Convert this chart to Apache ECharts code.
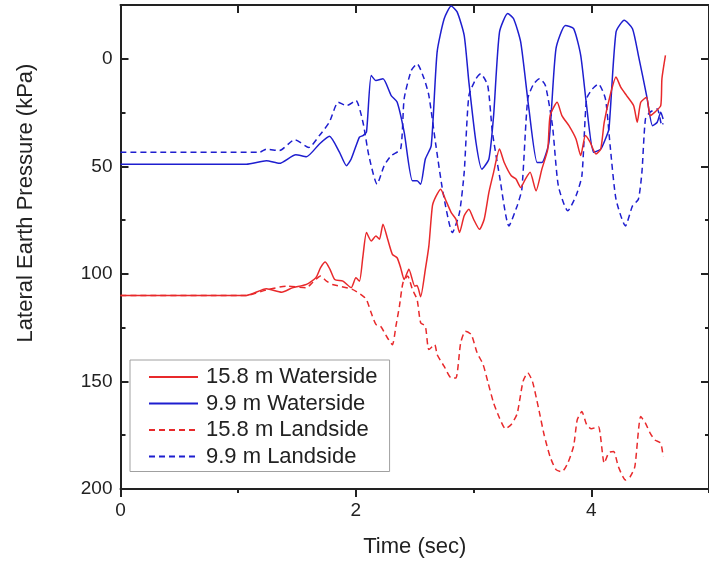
<!DOCTYPE html>
<html>
<head>
<meta charset="utf-8">
<script src="https://cdn.jsdelivr.net/npm/echarts@6/dist/echarts.min.js"></script>
<style>
html,body{margin:0;padding:0;background:#fff;}
#chart{width:709px;height:564px;}
</style>
</head>
<body>
<div id="chart"></div>
<script>
// ---- data ----
var seriesNames = ['15.8 m Waterside', '9.9 m Waterside', '15.8 m Landside', '9.9 m Landside'];

var ws158T = [0, 1.07, 1.24, 1.37, 1.46, 1.58, 1.66, 1.70, 1.74, 1.78, 1.82, 1.89, 1.96, 2.00, 2.03, 2.06, 2.09, 2.13, 2.17, 2.20, 2.23, 2.27, 2.31, 2.35, 2.38, 2.41, 2.45, 2.50, 2.52, 2.55, 2.59, 2.62, 2.65, 2.68, 2.72, 2.76, 2.81, 2.85, 2.88, 2.92, 2.96, 3.00, 3.05, 3.09, 3.13, 3.17, 3.22, 3.26, 3.32, 3.36, 3.40, 3.44, 3.48, 3.53, 3.58, 3.63, 3.65, 3.71, 3.75, 3.81, 3.87, 3.91, 3.95, 3.99, 4.04, 4.08, 4.11, 4.16, 4.21, 4.25, 4.30, 4.36, 4.39, 4.42, 4.47, 4.50, 4.54, 4.59, 4.60, 4.63];
var ws158V = [110, 110, 106.9, 108.5, 106.5, 104.9, 101.8, 97.1, 94.5, 97.9, 102.6, 103.4, 106.4, 101.8, 103.4, 91.7, 80.8, 84.7, 82.4, 83.9, 76.9, 83.9, 90.9, 92.5, 97.1, 102.6, 97.9, 105.7, 105.4, 110.6, 97.9, 87, 68.4, 64, 60.6, 65.3, 71.5, 74.6, 80.8, 73, 69.9, 74.6, 79.3, 74.6, 62.1, 52.8, 42, 48.2, 54.4, 55.9, 59.8, 55.9, 52.8, 61.4, 51.3, 42, 26.4, 20.2, 26.4, 31.1, 37.3, 45, 35.7, 38.8, 44.3, 42, 29.5, 17.1, 8.5, 13.2, 17.1, 21.8, 29.5, 20.2, 17.9, 26.4, 24.8, 21.8, 9.3, -1.6];

var ws99T = [0, 1.07, 1.24, 1.35, 1.49, 1.58, 1.69, 1.775, 1.86, 1.92, 1.96, 2.03, 2.06, 2.09, 2.13, 2.17, 2.23, 2.30, 2.35, 2.41, 2.48, 2.52, 2.55, 2.59, 2.64, 2.69, 2.75, 2.81, 2.86, 2.92, 2.96, 3.02, 3.07, 3.13, 3.17, 3.22, 3.29, 3.34, 3.40, 3.47, 3.54, 3.58, 3.64, 3.70, 3.78, 3.85, 3.91, 3.96, 4.02, 4.08, 4.12, 4.15, 4.21, 4.28, 4.35, 4.40, 4.47, 4.52, 4.56, 4.59, 4.61];
var ws99V = [49, 49, 47.4, 48.6, 44.6, 45.5, 39.6, 36, 43.4, 49.7, 46.6, 36.4, 35.7, 34, 7.8, 10.1, 9.3, 17.1, 20.1, 34.1, 56.7, 56.7, 58.3, 46.6, 40.4, -3.1, -18.6, -24.5, -21.8, -10.9, 10.9, 38.8, 51.3, 46.6, 26.4, -12.4, -21, -18.6, -7.8, 23.3, 48.2, 48.2, 38.8, -4.7, -15.5, -14, -1.6, 21.8, 43.5, 42, 37.3, 32.6, -12.4, -17.9, -14, -1.6, 17.1, 31.1, 29.5, 24.8, 28];

var ls158T = [0, 1.07, 1.24, 1.41, 1.58, 1.63, 1.70, 1.75, 1.80, 1.97, 2.06, 2.09, 2.13, 2.17, 2.21, 2.26, 2.31, 2.34, 2.37, 2.40, 2.44, 2.48, 2.52, 2.55, 2.59, 2.62, 2.67, 2.69, 2.75, 2.81, 2.85, 2.89, 2.93, 2.98, 3.03, 3.08, 3.12, 3.17, 3.22, 3.27, 3.32, 3.37, 3.42, 3.46, 3.50, 3.55, 3.60, 3.65, 3.70, 3.75, 3.80, 3.85, 3.88, 3.92, 3.96, 4.00, 4.06, 4.11, 4.15, 4.19, 4.23, 4.29, 4.33, 4.37, 4.42, 4.46, 4.50, 4.54, 4.59, 4.61];
var ls158V = [110, 110, 107.5, 105.7, 106.4, 104.1, 101, 103.4, 104.9, 107.2, 110.3, 111.9, 118.1, 123.5, 124.3, 129, 132.9, 124.3, 115, 104.1, 101, 107.2, 111.9, 122.7, 124.3, 135.2, 132.9, 137.5, 143, 148.4, 148.4, 132.1, 126.7, 128.2, 136.7, 142, 150, 160, 167, 172, 170, 165, 150, 146, 150, 162, 175, 185, 191, 192, 188, 180, 168, 164, 170, 172, 171, 188, 183, 182.6, 189.6, 195.8, 194.3, 189.6, 166.3, 169.4, 174, 177.2, 178.7, 184.9];

var ls99T = [0, 1.18, 1.24, 1.35, 1.48, 1.60, 1.69, 1.775, 1.85, 1.92, 2.00, 2.06, 2.11, 2.18, 2.24, 2.30, 2.38, 2.41, 2.47, 2.52, 2.58, 2.62, 2.68, 2.74, 2.82, 2.88, 2.92, 2.96, 3.02, 3.06, 3.12, 3.16, 3.22, 3.30, 3.37, 3.41, 3.46, 3.51, 3.56, 3.61, 3.67, 3.72, 3.80, 3.87, 3.92, 3.96, 4.01, 4.06, 4.12, 4.16, 4.21, 4.29, 4.35, 4.40, 4.43, 4.46, 4.50, 4.56, 4.60, 4.61];
var ls99V = [43.5, 43.5, 42, 42.7, 37.6, 41.2, 35.7, 29.4, 20.2, 21.8, 19.4, 29.5, 45, 58.3, 49.7, 45, 42, 18.6, 5.5, 2.3, 9.3, 17.1, 40.4, 62.1, 80.8, 71.5, 52.8, 17.1, 9.3, 7, 12.4, 34.2, 54.4, 77.7, 68.4, 60.6, 18.6, 11.7, 9.3, 12.4, 31.1, 59.1, 70.7, 63.7, 54.4, 18.6, 14, 11.7, 18.6, 40.4, 65.3, 77.7, 68.4, 65.3, 52.8, 28, 24.8, 23.3, 31.1, 30];

var xMajorTicks = [0, 2, 4];
var xMinorTicks = [1, 3, 5];
var xTopTicks = [1, 2, 3, 4];
var yMajorTicks = [0, 50, 100, 150, 200];
var yMinorTicks = [25, 75, 125, 175];

// ---- chart ----
function pairs(t, v) { return t.map(function (x, i) { return [x, v[i]]; }); }

var RED = '#e8292b', BLUE = '#1e1ecf';
var AX = '#222';
var FONT = 'Liberation Sans, Arial, sans-serif';

var xRange = { min: 0, max: 5 };
var yRange = { min: -25, max: 200 };

function xAx(extra) {
  return Object.assign({ type: 'value', min: xRange.min, max: xRange.max, splitLine: { show: false } }, extra);
}
function yAx(extra) {
  return Object.assign({ type: 'value', inverse: true, min: yRange.min, max: yRange.max, splitLine: { show: false } }, extra);
}
function line(show) { return { show: show, onZero: false, lineStyle: { color: AX, width: 2 } }; }

var chart = echarts.init(document.getElementById('chart'), null, { renderer: 'canvas' });
chart.setOption({
  animation: false,
  backgroundColor: '#fff',
  grid: { left: 120.5, top: 5, right: -1, bottom: 75, containLabel: false },
  xAxis: [
    xAx({
      position: 'bottom',
      name: 'Time (sec)', nameLocation: 'middle', nameGap: 47,
      nameTextStyle: { fontFamily: FONT, fontSize: 22, color: '#222' },
      axisLine: line(true),
      axisTick: { show: true, inside: false, length: 8, customValues: xMajorTicks, lineStyle: { color: AX, width: 2 } },
      axisLabel: { show: true, customValues: xMajorTicks, margin: 12, fontFamily: FONT, fontSize: 19, color: '#222' }
    }),
    xAx({
      position: 'bottom',
      axisLine: line(false),
      axisTick: { show: true, inside: false, length: 4, customValues: xMinorTicks, lineStyle: { color: AX, width: 2 } },
      axisLabel: { show: false }
    }),
    xAx({
      position: 'top',
      axisLine: line(true),
      axisTick: { show: true, inside: true, length: 8, customValues: xTopTicks, lineStyle: { color: AX, width: 2 } },
      axisLabel: { show: false }
    })
  ],
  yAxis: [
    yAx({
      position: 'left',
      name: 'Lateral Earth Pressure (kPa)', nameLocation: 'middle', nameGap: 84,
      nameTextStyle: { fontFamily: FONT, fontSize: 22, color: '#222', padding: [0, 0, 0, 88] },
      axisLine: line(true),
      axisTick: { show: true, inside: true, length: 8, customValues: yMajorTicks, lineStyle: { color: AX, width: 2 } },
      axisLabel: { show: true, customValues: yMajorTicks, margin: 8, fontFamily: FONT, fontSize: 19, color: '#222' }
    }),
    yAx({
      position: 'left',
      axisLine: line(false),
      axisTick: { show: true, inside: true, length: 5, customValues: yMinorTicks, lineStyle: { color: AX, width: 2 } },
      axisLabel: { show: false }
    }),
    yAx({
      position: 'right',
      axisLine: line(true),
      axisTick: { show: true, inside: true, length: 8, customValues: yMajorTicks, lineStyle: { color: AX, width: 2 } },
      axisLabel: { show: false }
    }),
    yAx({
      position: 'right',
      axisLine: line(false),
      axisTick: { show: true, inside: true, length: 4, customValues: yMinorTicks, lineStyle: { color: AX, width: 2 } },
      axisLabel: { show: false }
    })
  ],
  legend: {
    orient: 'vertical', left: 130, top: 360,
    padding: [6, 12, 4, 18],
    itemWidth: 49, itemHeight: 14, itemGap: 4.5,
    itemStyle: { opacity: 0 },
    backgroundColor: '#fff', borderColor: '#a0a0a0', borderWidth: 1, borderRadius: 0,
    textStyle: { fontFamily: FONT, fontSize: 22, color: '#222', padding: [0, 0, 0, 3] },
    data: seriesNames
  },
  series: [
    { name: seriesNames[0], type: 'line', data: pairs(ws158T, ws158V), showSymbol: false, symbol: 'none', smooth: 0.2,
      lineStyle: { color: RED, width: 1.5 }, itemStyle: { color: RED }, z: 4 },
    { name: seriesNames[1], type: 'line', data: pairs(ws99T, ws99V), showSymbol: false, symbol: 'none', smooth: 0.2,
      lineStyle: { color: BLUE, width: 1.5 }, itemStyle: { color: BLUE }, z: 3 },
    { name: seriesNames[2], type: 'line', data: pairs(ls158T, ls158V), showSymbol: false, symbol: 'none', smooth: 0.2,
      lineStyle: { color: RED, width: 1.5, type: [6, 4] }, itemStyle: { color: RED }, z: 2 },
    { name: seriesNames[3], type: 'line', data: pairs(ls99T, ls99V), showSymbol: false, symbol: 'none', smooth: 0.2,
      lineStyle: { color: BLUE, width: 1.5, type: [6, 4] }, itemStyle: { color: BLUE }, z: 2 }
  ]
});
</script>
</body>
</html>
